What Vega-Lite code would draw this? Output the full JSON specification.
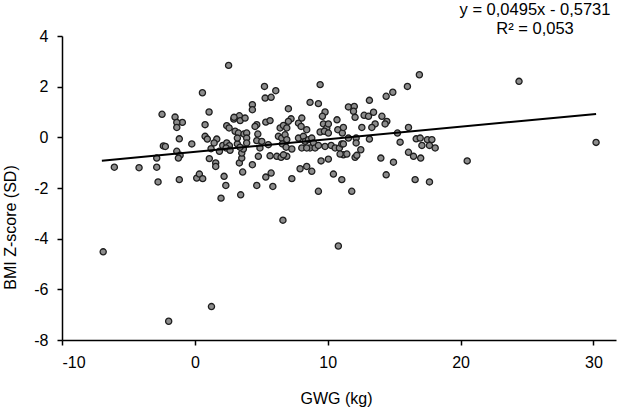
{
  "$schema": "https://vega.github.io/schema/vega-lite/v6.json",
  "width": 554,
  "height": 304,
  "autosize": "none",
  "padding": {"left": 62, "top": 36, "right": 7, "bottom": 69},
  "background": "white",
  "config": {
    "font": "Liberation Sans",
    "view": {"stroke": null},
    "axis": {
      "domainColor": "black",
      "domainWidth": 1.5,
      "tickColor": "black",
      "tickWidth": 1.5,
      "tickSize": 5,
      "labelColor": "black",
      "labelFontSize": 16,
      "labelExpr": "replace(datum.label, '−', '-')",
      "titleColor": "black",
      "titleFontSize": 16,
      "titleFontWeight": "normal",
      "grid": false
    }
  },
  "title": {
    "text": "y = 0,0495x - 0,5731",
    "subtitle": "R² = 0,053",
    "anchor": "end",
    "align": "center",
    "dx": -81,
    "offset": -9,
    "fontSize": 16.5,
    "fontWeight": "normal",
    "color": "black",
    "subtitleFontSize": 16.5,
    "subtitleColor": "black",
    "subtitlePadding": 2
  },
  "datasets": {
    "points": [
      {"gwg": -6.9, "z": -4.52}, {"gwg": -1.97, "z": -7.26}, {"gwg": 1.25, "z": -6.68}, {"gwg": 6.63, "z": -3.27},
      {"gwg": 10.8, "z": -4.29}, {"gwg": 30.2, "z": -0.2}, {"gwg": 24.4, "z": 2.21}, {"gwg": 20.5, "z": -0.93},
      {"gwg": 2.54, "z": 2.84}, {"gwg": -6.06, "z": -1.18}, {"gwg": -4.2, "z": -1.2}, {"gwg": -2.87, "z": -0.82},
      {"gwg": -2.87, "z": -1.18}, {"gwg": -2.77, "z": -1.76},
      {"gwg": 0.57, "z": 1.76}, {"gwg": -2.47, "z": 0.91}, {"gwg": -1.49, "z": 0.8}, {"gwg": -0.94, "z": 0.59},
      {"gwg": -1.36, "z": 0.59}, {"gwg": -1.36, "z": 0.39}, {"gwg": 1.07, "z": 1.0}, {"gwg": 0.77, "z": 0.5},
      {"gwg": 2.93, "z": 0.72}, {"gwg": 3.35, "z": 0.85}, {"gwg": 3.41, "z": 0.66}, {"gwg": 2.95, "z": 0.79},
      {"gwg": 2.4, "z": 0.46}, {"gwg": 2.58, "z": 0.37}, {"gwg": 3.03, "z": 0.24}, {"gwg": 3.28, "z": 0.17},
      {"gwg": 3.7, "z": 0.13}, {"gwg": 3.9, "z": 0.17}, {"gwg": -2.37, "z": -0.34}, {"gwg": -2.22, "z": -0.36},
      {"gwg": -1.17, "z": -0.06}, {"gwg": -0.23, "z": -0.26}, {"gwg": 0.77, "z": 0.04}, {"gwg": 0.94, "z": -0.07},
      {"gwg": 1.65, "z": -0.07}, {"gwg": 1.45, "z": -0.22}, {"gwg": 1.22, "z": -0.45}, {"gwg": 2.1, "z": -0.32},
      {"gwg": 2.4, "z": -0.22}, {"gwg": 2.6, "z": -0.33}, {"gwg": 2.35, "z": -0.42}, {"gwg": 1.85, "z": -0.55},
      {"gwg": 1.09, "z": -0.84}, {"gwg": 1.57, "z": -1.01}, {"gwg": 1.57, "z": -1.15}, {"gwg": -1.36, "z": -0.55},
      {"gwg": -1.11, "z": -0.71}, {"gwg": -1.24, "z": -0.82}, {"gwg": -1.17, "z": -1.67}, {"gwg": 0.14, "z": -1.61},
      {"gwg": 0.34, "z": -1.45}, {"gwg": 0.59, "z": -1.63}, {"gwg": 2.2, "z": -1.54}, {"gwg": 2.33, "z": -1.9},
      {"gwg": 1.97, "z": -2.4}, {"gwg": 3.45, "z": -2.27}, {"gwg": 3.6, "z": -1.37}, {"gwg": 3.35, "z": -1.01},
      {"gwg": 3.53, "z": -0.82}, {"gwg": 3.53, "z": -0.62}, {"gwg": 3.65, "z": -0.46}, {"gwg": 3.2, "z": -0.26},
      {"gwg": 3.4, "z": -0.39}, {"gwg": 3.9, "z": -0.03}, {"gwg": 3.9, "z": -0.22}, {"gwg": 2.65, "z": -0.51},
      {"gwg": 3.2, "z": -0.03},
      {"gwg": 5.24, "z": 2.01}, {"gwg": 9.43, "z": 2.08}, {"gwg": 5.29, "z": 1.55}, {"gwg": 5.74, "z": 1.58},
      {"gwg": 6.09, "z": 1.84}, {"gwg": 4.33, "z": 1.29}, {"gwg": 4.33, "z": 1.09}, {"gwg": 7.04, "z": 1.13},
      {"gwg": 8.67, "z": 1.38}, {"gwg": 9.3, "z": 1.33}, {"gwg": 9.8, "z": 1.0}, {"gwg": 9.6, "z": 0.83},
      {"gwg": 3.78, "z": 0.76}, {"gwg": 5.34, "z": 0.6}, {"gwg": 5.66, "z": 0.66}, {"gwg": 4.66, "z": 0.5},
      {"gwg": 4.53, "z": 0.43}, {"gwg": 6.42, "z": 0.37}, {"gwg": 6.67, "z": 0.47}, {"gwg": 6.92, "z": 0.37},
      {"gwg": 7.24, "z": 0.73}, {"gwg": 7.04, "z": 0.63}, {"gwg": 7.8, "z": 0.56}, {"gwg": 8.05, "z": 0.76},
      {"gwg": 8.0, "z": 0.43}, {"gwg": 8.42, "z": 0.3}, {"gwg": 9.68, "z": 0.53}, {"gwg": 9.93, "z": 0.37},
      {"gwg": 10.05, "z": 0.53}, {"gwg": 10.7, "z": 0.69}, {"gwg": 10.76, "z": 0.3}, {"gwg": 11.1, "z": 0.17},
      {"gwg": 4.74, "z": 0.13}, {"gwg": 4.66, "z": -0.13}, {"gwg": 5.04, "z": -0.16}, {"gwg": 4.9, "z": -0.42},
      {"gwg": 5.53, "z": -0.29}, {"gwg": 6.29, "z": 0.04}, {"gwg": 6.54, "z": -0.03}, {"gwg": 6.79, "z": 0.1},
      {"gwg": 6.92, "z": -0.09}, {"gwg": 6.59, "z": -0.26}, {"gwg": 6.87, "z": -0.39}, {"gwg": 7.3, "z": -0.46},
      {"gwg": 7.8, "z": -0.03}, {"gwg": 8.17, "z": 0.04}, {"gwg": 8.3, "z": -0.16}, {"gwg": 8.55, "z": -0.09},
      {"gwg": 8.8, "z": -0.03}, {"gwg": 8.93, "z": -0.22}, {"gwg": 8.67, "z": -0.42}, {"gwg": 9.05, "z": -0.42},
      {"gwg": 8.05, "z": -0.42}, {"gwg": 8.42, "z": -0.42}, {"gwg": 9.43, "z": 0.21}, {"gwg": 9.75, "z": 0.24},
      {"gwg": 10.05, "z": 0.17}, {"gwg": 9.3, "z": -0.32}, {"gwg": 9.8, "z": -0.36}, {"gwg": 10.26, "z": -0.32},
      {"gwg": 10.56, "z": -0.42}, {"gwg": 10.88, "z": -0.42}, {"gwg": 11.06, "z": -0.26}, {"gwg": 4.78, "z": -0.75},
      {"gwg": 5.66, "z": -0.73}, {"gwg": 6.17, "z": -0.75}, {"gwg": 6.49, "z": -0.79}, {"gwg": 6.92, "z": -0.75},
      {"gwg": 6.67, "z": -0.69}, {"gwg": 4.33, "z": -1.08}, {"gwg": 9.5, "z": -0.93}, {"gwg": 10.05, "z": -0.86},
      {"gwg": 11.18, "z": -0.69}, {"gwg": 7.92, "z": -1.24}, {"gwg": 8.42, "z": -1.15}, {"gwg": 8.8, "z": -1.34},
      {"gwg": 5.34, "z": -1.57}, {"gwg": 5.74, "z": -1.41}, {"gwg": 7.3, "z": -1.63}, {"gwg": 10.43, "z": -1.45},
      {"gwg": 11.06, "z": -1.67}, {"gwg": 4.66, "z": -1.9}, {"gwg": 5.87, "z": -1.94}, {"gwg": 9.3, "z": -2.13},
      {"gwg": 16.9, "z": 2.47}, {"gwg": 16.0, "z": 2.01}, {"gwg": 14.4, "z": 1.62}, {"gwg": 14.9, "z": 1.78},
      {"gwg": 13.14, "z": 1.46}, {"gwg": 11.56, "z": 1.2}, {"gwg": 12.0, "z": 1.22}, {"gwg": 11.94, "z": 1.03},
      {"gwg": 12.06, "z": 0.79}, {"gwg": 12.74, "z": 0.87}, {"gwg": 13.07, "z": 0.83}, {"gwg": 13.45, "z": 0.99},
      {"gwg": 14.08, "z": 0.83}, {"gwg": 14.45, "z": 0.63}, {"gwg": 14.32, "z": 0.53}, {"gwg": 13.57, "z": 0.53},
      {"gwg": 13.32, "z": 0.39}, {"gwg": 12.57, "z": 0.39}, {"gwg": 11.18, "z": 0.39}, {"gwg": 16.08, "z": 0.39},
      {"gwg": 15.25, "z": 0.17}, {"gwg": 15.45, "z": -0.19}, {"gwg": 11.56, "z": -0.03}, {"gwg": 12.14, "z": -0.03},
      {"gwg": 12.14, "z": -0.22}, {"gwg": 13.14, "z": -0.07}, {"gwg": 11.18, "z": -0.26}, {"gwg": 10.93, "z": -0.66},
      {"gwg": 11.44, "z": -0.66}, {"gwg": 12.49, "z": -0.49}, {"gwg": 12.06, "z": -0.79}, {"gwg": 12.19, "z": -0.71},
      {"gwg": 16.66, "z": -0.06}, {"gwg": 16.96, "z": -0.03}, {"gwg": 17.5, "z": -0.09}, {"gwg": 17.84, "z": -0.09},
      {"gwg": 17.09, "z": -0.32}, {"gwg": 17.66, "z": -0.32}, {"gwg": 18.09, "z": -0.42}, {"gwg": 16.08, "z": -0.59},
      {"gwg": 16.46, "z": -0.75}, {"gwg": 17.0, "z": -0.82}, {"gwg": 14.0, "z": -0.82}, {"gwg": 14.95, "z": -0.98},
      {"gwg": 14.4, "z": -1.48}, {"gwg": 16.58, "z": -1.67}, {"gwg": 17.66, "z": -1.76}, {"gwg": 11.81, "z": -2.13}
    ],
    "trend": [
      {"gwg": -7.0, "z": -0.92},
      {"gwg": 30.2, "z": 0.922}
    ]
  },
  "encoding": {
    "x": {
      "field": "gwg",
      "type": "quantitative",
      "scale": {"domain": [-10, 31.7], "nice": false, "zero": false},
      "axis": {"values": [-10, 0, 10, 20, 30], "labelPadding": 9, "title": "GWG (kg)", "titleX": 274, "titleY": 63, "titleBaseline": "alphabetic"}
    },
    "y": {
      "field": "z",
      "type": "quantitative",
      "scale": {"domain": [-8, 4], "nice": false, "zero": false},
      "axis": {"values": [-8, -6, -4, -2, 0, 2, 4], "labelPadding": 9, "title": "BMI Z-score (SD)", "titleX": -52, "titleY": 191, "titleBaseline": "middle"}
    }
  },
  "layer": [
    {
      "data": {"name": "points"},
      "mark": {"type": "circle", "size": 38, "fill": "#8c8c8c", "stroke": "#1e1e1e", "strokeWidth": 1.3, "opacity": 1}
    },
    {
      "data": {"name": "trend"},
      "mark": {"type": "line", "color": "black", "strokeWidth": 2}
    }
  ]
}
